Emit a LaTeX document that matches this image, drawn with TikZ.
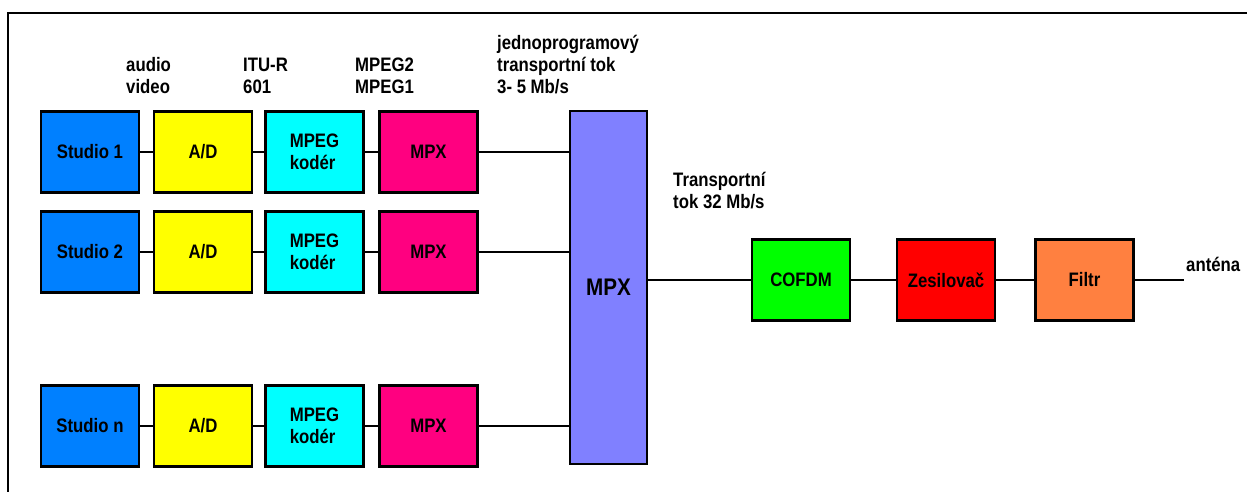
\documentclass[tikz,border=0pt]{standalone}
\usepackage{fontspec}
\setmainfont[FakeStretch=0.86]{Liberation Sans}
\usetikzlibrary{positioning}
\definecolor{studioc}{HTML}{0080FF}
\definecolor{adc}{HTML}{FFFF00}
\definecolor{encc}{HTML}{00FFFF}
\definecolor{mpxc}{HTML}{FF0080}
\definecolor{bigc}{HTML}{8080FF}
\definecolor{ofdmc}{HTML}{00FF00}
\definecolor{ampc}{HTML}{FF0000}
\definecolor{filtc}{HTML}{FF8040}
\tikzset{
  blk/.style={draw,line width=2.6pt,minimum width=98pt,minimum height=81pt,inner sep=0pt,align=left},
  lbl/.style={inner sep=0pt,align=left,anchor=west},
  wire/.style={line width=2.4pt}
}
\begin{document}
\begin{tikzpicture}[x=1pt,y=-1pt,font=\bfseries\fontsize{19.5}{22}\selectfont]
\clip (0,0) rectangle (1247,491);
\fill[white] (0,0) rectangle (1247,491);
\draw[line width=2.4pt] (8,520) |- (1280,13);
% labels above the chains
\node[lbl] (lav) at (126,76) {audio\\video};
\node[lbl] (litu) at (243,76) {ITU-R\\601};
\node[lbl] (lmpg) at (355,76) {MPEG2\\MPEG1};
\node[lbl] (ljed) at (497,65) {jednoprogramový\\transportní tok\\3- 5 Mb/s};
\node[lbl] (ltr) at (673,191) {Transportní\\tok 32 Mb/s};
% studio chains
\foreach \i/\y in {1/152,2/252,n/426}{
  \node[blk,fill=studioc] (s\i) at (90,\y) {Studio \i};
  \node[blk,fill=adc] (ad\i) at (203,\y) {A/D};
  \node[blk,fill=encc] (enc\i) at (314.5,\y) {MPEG\\kodér};
  \node[blk,fill=mpxc] (mx\i) at (428.5,\y) {MPX};
}
\node[blk,fill=bigc,minimum width=77pt,minimum height=353pt,font=\bfseries\fontsize{24}{26}\selectfont] (big) at (608.5,287.5) {MPX};
\node[blk,fill=ofdmc] (ofdm) at (801,280) {COFDM};
\node[blk,fill=ampc] (amp) at (946,280) {Zesilovač};
\node[blk,fill=filtc] (filt) at (1084.5,280) {Filtr};
\coordinate (ant) at (1184,280);
\node[lbl] (lant) at (1186,264) {anténa};
\foreach \i in {1,2,n}{
  \draw[wire] (s\i) -- (ad\i);
  \draw[wire] (ad\i) -- (enc\i);
  \draw[wire] (enc\i) -- (mx\i);
  \draw[wire] (mx\i.east) -- (mx\i.east -| big.west);
}
\draw[wire] (big.east |- ofdm) -- (ofdm);
\draw[wire] (ofdm) -- (amp);
\draw[wire] (amp) -- (filt);
\draw[wire] (filt.east |- ant) -- (ant);
\end{tikzpicture}
\end{document}
